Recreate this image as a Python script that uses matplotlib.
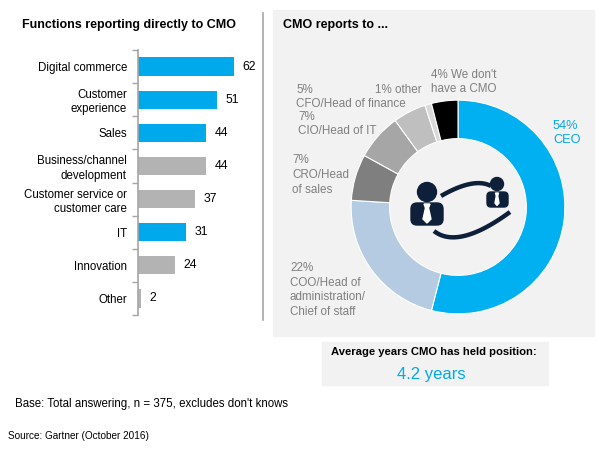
import numpy as np
import matplotlib
matplotlib.use('Agg')
import matplotlib.pyplot as plt
from matplotlib.patches import Rectangle, Circle, FancyBboxPatch, Polygon

plt.rcParams['font.family'] = ['Liberation Sans', 'DejaVu Sans']

# Functions reporting directly to CMO (%)
functions = ['Digital commerce', 'Customer\nexperience', 'Sales',
             'Business/channel\ndevelopment', 'Customer service or\ncustomer care',
             'IT', 'Innovation', 'Other']
function_values = [62, 51, 44, 44, 37, 31, 24, 2]
highlighted = ['Digital commerce', 'Customer\nexperience', 'Sales', 'IT']

# CMO reports to ... (%)
reports_to = ['CEO', 'COO/Head of administration/Chief of staff', 'CRO/Head of sales',
              'CIO/Head of IT', 'CFO/Head of finance', 'other', "We don't have a CMO"]
reports_values = [54, 22, 7, 7, 5, 1, 4]

avg_years = 4.2

BLUE = '#00A9EC'
GRAY_BAR = '#B3B3B3'
PANEL = '#F2F2F2'
LABEL_GRAY = '#7F7F7F'
NAVY = '#0E1F3A'

fig = plt.figure(figsize=(6, 4.5), dpi=100)

# background / text layer in pixel coordinates
bg = fig.add_axes([0, 0, 1, 1])
bg.set_xlim(0, 600)
bg.set_ylim(450, 0)
bg.axis('off')
bg.add_patch(Rectangle((273, 10), 321, 326, color=PANEL, zorder=0))
bg.plot([263, 263], [13, 320], color='#A6A6A6', lw=1.2)
bg.add_patch(Rectangle((322, 342), 226, 43, color=PANEL, zorder=0))

bg.text(22, 25, 'Functions reporting directly to CMO', fontsize=9,
        fontweight='bold', ha='left', va='center')
bg.text(283, 25, 'CMO reports to ...', fontsize=9, fontweight='bold',
        ha='left', va='center')
bg.text(434, 352, 'Average years CMO has held position:', fontsize=8.1,
        fontweight='bold', ha='center', va='center')
bg.text(431, 374, f'{avg_years} years', fontsize=12, color=BLUE,
        ha='center', va='center')
bg.text(15, 404, "Base: Total answering, n = 375, excludes don't knows",
        fontsize=8.3, ha='left', va='center')
bg.text(8, 436, 'Source: Gartner (October 2016)', fontsize=7.2,
        ha='left', va='center')

# donut labels
LS = 1.3
bg.text(553, 133, f'{reports_values[0]}%\nCEO', fontsize=9.2, color=BLUE,
        ha='left', va='center', linespacing=1.25)
bg.text(290, 290, f'{reports_values[1]}%\nCOO/Head of\nadministration/\nChief of staff',
        fontsize=8.4, color=LABEL_GRAY, ha='left', va='center', linespacing=LS)
bg.text(292, 175, f'{reports_values[2]}%\nCRO/Head\nof sales', fontsize=8.4,
        color=LABEL_GRAY, ha='left', va='center', linespacing=LS)
bg.text(298, 124, f'{reports_values[3]}%\nCIO/Head of IT', fontsize=8.4,
        color=LABEL_GRAY, ha='left', va='center', linespacing=LS)
bg.text(296, 90, f'{reports_values[4]}%', fontsize=8.4,
        color=LABEL_GRAY, ha='left', va='center')
bg.text(296, 104, 'CFO/Head of finance', fontsize=8.4,
        color=LABEL_GRAY, ha='left', va='center')
bg.text(375, 90, f'{reports_values[5]}% other', fontsize=8.4,
        color=LABEL_GRAY, ha='left', va='center')
bg.text(431, 82, f"{reports_values[6]}% We don't\nhave a CMO", fontsize=8.4,
        color=LABEL_GRAY, ha='left', va='center', linespacing=LS)

# bar chart
ax = fig.add_axes([138 / 600, 135 / 450, 108 / 600, 265 / 450])
y = np.arange(len(functions))
colors = [BLUE if f in highlighted else GRAY_BAR for f in functions]
bars = ax.barh(y, function_values, height=0.55, color=colors)
for bar, v in zip(bars, function_values):
    ax.text(bar.get_width() + 5.5, bar.get_y() + bar.get_height() / 2, str(v),
            fontsize=8.8, ha='left', va='center')
ax.set_xlim(0, 70)
ax.set_ylim(len(functions) - 0.5, -0.5)
ax.set_yticks(y)
ax.set_yticklabels(functions, fontsize=8.3, linespacing=1.25)
ax.set_yticks(np.arange(len(functions) + 1) - 0.5, minor=True)
ax.tick_params(axis='y', which='major', length=0, pad=8)
ax.tick_params(axis='y', which='minor', length=4, color='#A6A6A6', width=1)
ax.set_xticks([])
for s in ['top', 'right', 'bottom']:
    ax.spines[s].set_visible(False)
ax.spines['left'].set_color('#A6A6A6')
ax.spines['left'].set_linewidth(1.2)
ax.patch.set_alpha(0)

# donut
dax = fig.add_axes([349 / 600, 134 / 450, 218 / 600, 218 / 450])
donut_colors = ['#00B0F0', '#B4CBE2', '#7F7F7F', '#A6A6A6', '#BFBFBF', '#D9D9D9', '#000000']
dax.pie(reports_values, colors=donut_colors, startangle=90, counterclock=False,
        radius=1, wedgeprops=dict(width=0.36, edgecolor='white', linewidth=0.8))
dax.set_xlim(-1.02, 1.02)
dax.set_ylim(-1.02, 1.02)
dax.axis('off')

# icon in the middle of the donut
ov = fig.add_axes([0, 0, 1, 1])
ov.set_xlim(0, 600)
ov.set_ylim(450, 0)
ov.axis('off')
ov.patch.set_alpha(0)
ov.add_patch(Circle((427, 192), 9.5, color=NAVY))
ov.add_patch(FancyBboxPatch((411, 203), 32, 22, boxstyle='round,pad=0,rounding_size=6',
                            color=NAVY))
ov.add_patch(Polygon([(424, 204), (430, 204), (428.5, 208), (431, 219), (427, 223),
                      (423, 219), (425.5, 208)], color='white'))
ov.add_patch(Circle((497, 184), 6.5, color=NAVY))
ov.add_patch(FancyBboxPatch((487, 192), 21, 15, boxstyle='round,pad=0,rounding_size=4',
                            color=NAVY))
ov.add_patch(Polygon([(495.5, 193), (498.5, 193), (497.7, 196), (499, 203), (497, 205.5),
                      (495, 203), (496.3, 196)], color='white'))
t = np.linspace(0, 1, 50)
for p0, c, p2 in [((441, 196), (474, 177), (491, 186)),
                  ((434, 231), (458, 250), (510, 212))]:
    bx = (1 - t) ** 2 * p0[0] + 2 * (1 - t) * t * c[0] + t ** 2 * p2[0]
    by = (1 - t) ** 2 * p0[1] + 2 * (1 - t) * t * c[1] + t ** 2 * p2[1]
    ov.plot(bx, by, color=NAVY, lw=3.2, solid_capstyle='butt')

fig.savefig('out.png', dpi=100)
